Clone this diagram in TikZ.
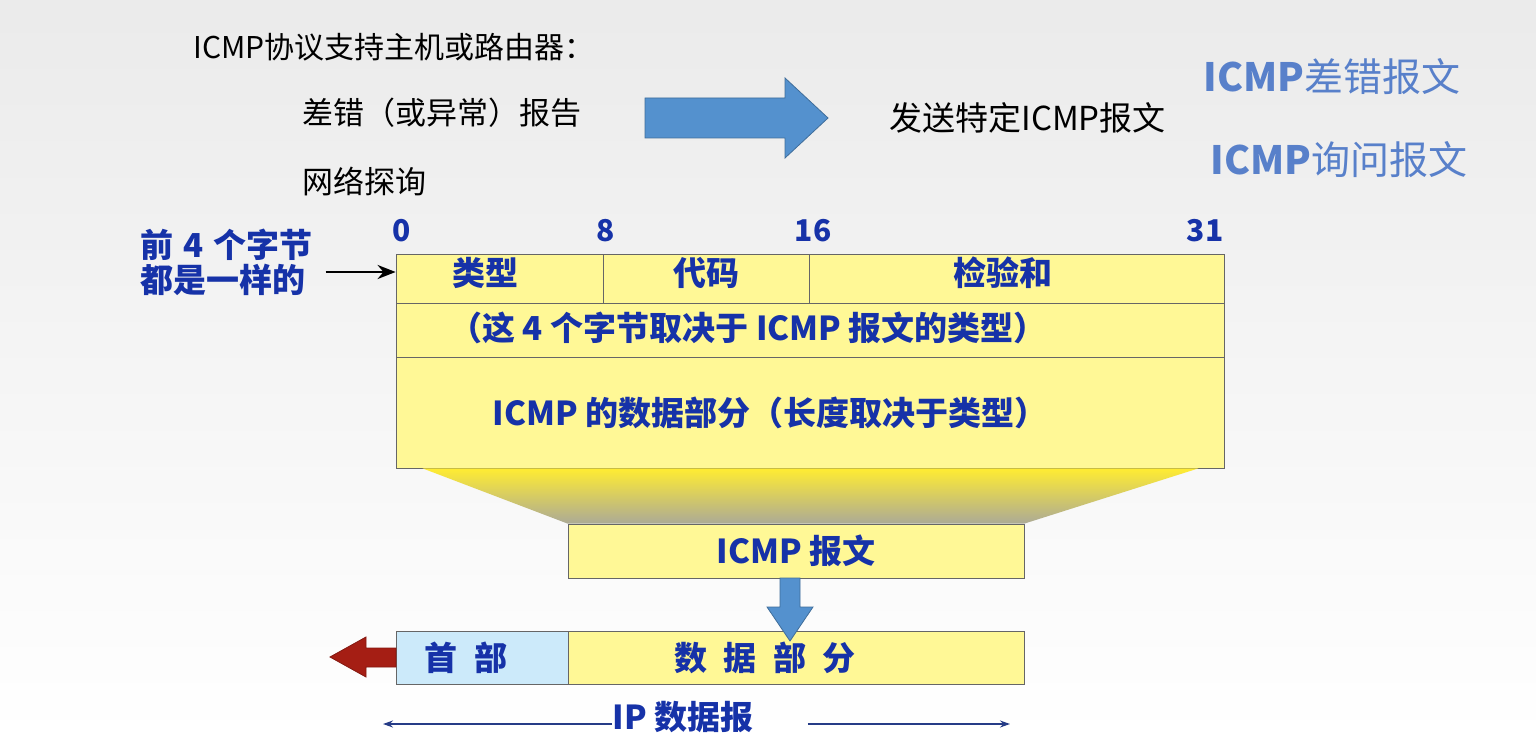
\documentclass[tikz,border=0pt]{standalone}
\usepackage{fontspec}
\setmainfont{Noto Sans CJK SC}
\usetikzlibrary{arrows.meta}
\definecolor{cellyellow}{RGB}{255,248,150}
\definecolor{hdrblue}{RGB}{204,234,250}
\definecolor{txtblue}{RGB}{22,50,168}
\definecolor{lineblue}{RGB}{38,60,135}
\definecolor{arrblue}{RGB}{84,145,206}
\definecolor{arrred}{RGB}{165,30,20}
\definecolor{tagblue}{RGB}{88,128,202}
\definecolor{funtop}{RGB}{255,236,50}
\definecolor{funbot}{RGB}{172,170,150}

\begin{document}
\begin{tikzpicture}[x=0.5pt,y=-0.5pt,
  cell/.style={draw=black!60, fill=cellyellow, inner sep=0pt},
  lab/.style={inner sep=0pt, text=txtblue, font=\bfseries\fontsize{16.5}{19}\selectfont},
  plain/.style={inner sep=0pt, anchor=west, font=\fontsize{15.5}{18}\selectfont},
  bit/.style={inner sep=0pt, text=txtblue, font=\bfseries\fontsize{15}{18}\selectfont},
  tag/.style={inner sep=0pt, anchor=west, text=tagblue, font=\fontsize{19.5}{22}\selectfont},
  pointer/.style={-{Stealth[length=9pt,width=7pt]}, line width=1.3pt},
  span/.style={-{Stealth[length=5pt,width=3.5pt]}, draw=lineblue, line width=1pt}]

\useasboundingbox (0,0) rectangle (1536,737);
\shade[top color=black!8, bottom color=white] (0,0) rectangle (1536,737);

% top lines of text
\node[plain, font=\fontsize{15}{18}\selectfont] (title) at (193,47) {ICMP协议支持主机或路由器：};
\node[plain] (err) at (302,113) {差错（或异常）报告};
\node[plain] (probe) at (302,181) {网络探询};
\node[plain, font=\fontsize{16.5}{19}\selectfont] (send) at (889,118) {发送特定ICMP报文};
\node[tag] (errmsg) at (1203,77) {\textbf{ICMP}差错报文};
\node[tag] (qrymsg) at (1210,160) {\textbf{ICMP}询问报文};
\draw[draw=arrblue!75!black, fill=arrblue] (645,98) -- (785,98) -- (785,78) -- (828,118) -- (785,158) -- (785,138) -- (645,138) -- cycle;

% ICMP header and data
\node[cell, minimum width=103.5pt, minimum height=24.5pt] (typ) at (499.5,278.5) {};
\node[cell, minimum width=103pt, minimum height=24.5pt] (code) at (706,278.5) {};
\node[cell, minimum width=207.5pt, minimum height=24.5pt] (chk) at (1016.5,278.5) {};
\node[cell, minimum width=414pt, minimum height=27pt] (rest) at (810,330) {};
\node[cell, minimum width=414pt, minimum height=55.5pt] (data) at (810,412.5) {};
\node[lab] at ([xshift=-7pt,yshift=3pt]typ.center) {类型};
\node[lab] at ([yshift=3pt]code.center) {代码};
\node[lab] at ([xshift=-7pt,yshift=3pt]chk.center) {检验和};
\node[lab] at ([xshift=-31pt,yshift=1pt]rest.center) {（这 4 个字节取决于 ICMP 报文的类型）};
\node[lab] at ([xshift=-20pt]data.center) {ICMP 的数据部分（长度取决于类型）};

\node[bit] (b0) at (402,231) {0};
\node[bit] (b8) at (606,231) {8};
\node[bit] (b16) at (813,231) {16};
\node[bit] (b31) at (1205,231) {31};

\node[lab, anchor=west, align=left, font=\bfseries\fontsize{16.5}{17.5}\selectfont] (same) at (140,262) {前\hspace{0.3em}4\hspace{0.3em}个字节\\都是一样的};
\draw[pointer] ([xshift=-35pt,yshift=3.25pt]typ.west) -- ([yshift=3.25pt]typ.west);

% ICMP message
\node[cell, minimum width=228pt, minimum height=27pt] (msg) at (796,551) {};
\node[lab] at (msg.center) {ICMP 报文};
\shade[top color=funtop, bottom color=funbot] ([xshift=13.5pt]data.south west) -- ([xshift=-13pt]data.south east) -- (msg.north east) -- (msg.north west) -- cycle;

% IP datagram
\node[cell, fill=hdrblue, minimum width=86pt, minimum height=26.5pt] (hdr) at (482,657.5) {};
\node[cell, minimum width=228pt, minimum height=26.5pt] (pay) at (796,657.5) {};
\node[lab] at ([xshift=-8pt]hdr.center) {首\hspace{0.5em}部};
\node[lab] at ([xshift=-15.5pt]pay.center) {数\hspace{0.5em}据\hspace{0.5em}部\hspace{0.5em}分};
\draw[draw=arrblue!75!black, fill=arrblue] (780,578) -- (800,578) -- (800,607) -- (813,607) -- (790,641) -- (767,607) -- (780,607) -- cycle;
\draw[draw=arrred!80!black, fill=arrred] (396,648) -- (366,648) -- (366,637) -- (330,657) -- (366,677) -- (366,667) -- (396,667) -- cycle;

\node[lab] (ip) at (683,717) {IP 数据报};
\coordinate (ipl) at (383,724);
\coordinate (ipr) at (1010,724);
\draw[span] (ip.west |- ipl) -- (ipl);
\draw[span] ([xshift=27pt]ip.east |- ipr) -- (ipr);
\end{tikzpicture}
\end{document}
